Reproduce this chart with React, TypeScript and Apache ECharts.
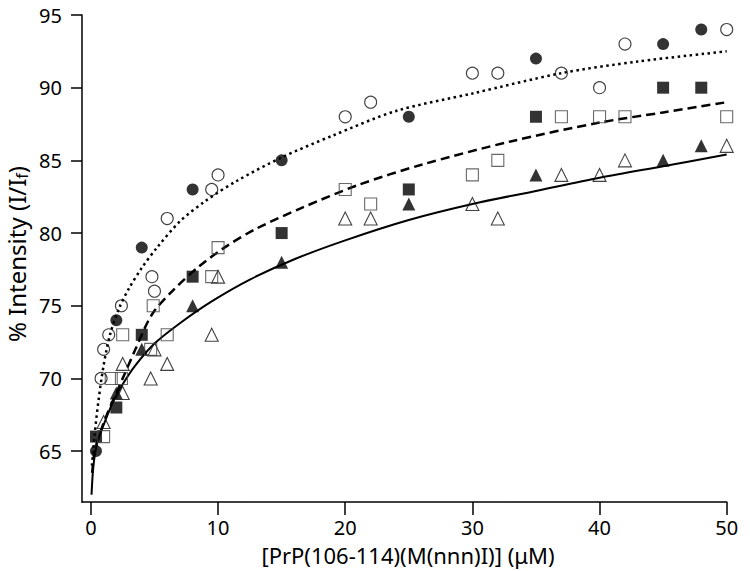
import React, { useEffect, useRef } from "react";
import * as echarts from "echarts";

// Data: [x (µM), % intensity]
const filledCircles: number[][] = [
  [0.4, 65], [2, 74], [4, 79], [8, 83], [15, 85], [25, 88], [35, 92], [45, 93], [48, 94],
];
const openCircles: number[][] = [
  [0.8, 70], [1, 72], [1.4, 73], [2.4, 75], [4.8, 77], [5, 76], [6, 81], [9.5, 83], [10, 84],
  [20, 88], [22, 89], [30, 91], [32, 91], [37, 91], [40, 90], [42, 93], [50, 94],
];
const filledSquares: number[][] = [
  [0.4, 66], [2, 68], [4, 73], [8, 77], [15, 80], [25, 83], [35, 88], [45, 90], [48, 90],
];
const openSquares: number[][] = [
  [1, 66], [1.6, 70], [2.4, 70], [2.5, 73], [4.7, 72], [4.9, 75], [6, 73], [9.5, 77], [10, 79],
  [20, 83], [22, 82], [30, 84], [32, 85], [37, 88], [40, 88], [42, 88], [50, 88],
];
const filledTriangles: number[][] = [
  [2, 69], [4, 72], [8, 75], [15, 78], [25, 82], [35, 84], [45, 85], [48, 86],
];
const openTriangles: number[][] = [
  [1, 67], [2.5, 69], [2.5, 71], [4.7, 70], [5, 72], [6, 71], [9.5, 73], [10, 77],
  [20, 81], [22, 81], [30, 82], [32, 81], [37, 84], [40, 84], [42, 85], [50, 86],
];

// Fitted curves, points
const dottedFit: number[][] = [
  [0.08, 64.0], [0.3, 66.2], [0.6, 68.5], [1, 70.9], [1.5, 73.0], [2.2, 74.8], [3, 76.2],
  [4, 77.6], [5.2, 79.0], [7, 80.8], [9, 82.2], [11.5, 83.6], [15, 85.2], [19, 86.7],
  [24, 88.4], [30, 89.6], [37, 91.0], [43, 91.8], [50, 92.5],
];
const dashedFit: number[][] = [
  [0.1, 63.5], [0.3, 65.0], [0.7, 66.2], [1.3, 67.6], [2, 69.0], [2.6, 70.2], [3.5, 72.0],
  [4.8, 74.4], [6.5, 76.1], [8.5, 77.7], [10.5, 79.0], [13, 80.3], [16.5, 81.7], [21, 83.3],
  [26, 84.7], [33, 86.3], [40, 87.6], [45, 88.3], [50, 89.0],
];
const solidFit: number[][] = [
  [0.05, 62.0], [0.2, 64.0], [0.5, 65.6], [1, 66.8], [1.7, 68.3], [2.5, 69.6], [3.5, 70.9],
  [5, 72.4], [7, 73.8], [9.5, 75.3], [12.5, 76.8], [16, 78.2], [20, 79.5], [25, 80.9],
  [30, 82.0], [35, 82.9], [40, 83.8], [45, 84.6], [50, 85.4],
];

const xTicks = [0, 10, 20, 30, 40, 50];
const yTicks = [65, 70, 75, 80, 85, 90, 95];

const FONT = "Noto Sans";

export default function App() {
  const ref = useRef<HTMLDivElement>(null);

  useEffect(() => {
    if (!ref.current) return;
    const chart = echarts.init(ref.current, undefined, { renderer: "svg" });

    const openStyle = (border: string) => ({
      color: "rgba(255,255,255,0)",
      borderColor: border,
      borderWidth: 1.1,
    });

    const fitLine = (data: number[][], width: number, type: any) => ({
      type: "line",
      data,
      smooth: 0.3,
      showSymbol: false,
      symbol: "none",
      lineStyle: { color: "#000", width, type },
      z: 2,
    });

    const option: any = {
      animation: false,
      backgroundColor: "#fff",
      grid: { left: 82, right: 23.3, top: 15, bottom: 69, containLabel: false },
      xAxis: {
        type: "value",
        min: -0.7,
        max: 50,
        splitLine: { show: false },
        axisLine: { show: true, onZero: false, lineStyle: { color: "#000", width: 1.5 } },
        axisTick: { show: true, inside: false, length: 13, customValues: xTicks, lineStyle: { color: "#000", width: 1.5 } },
        axisLabel: { customValues: xTicks, margin: 15, color: "#000", fontSize: 20, fontFamily: FONT, lineHeight: 20 },
      },
      yAxis: {
        type: "value",
        min: 61.5,
        max: 95,
        splitLine: { show: false },
        axisLine: { show: true, onZero: false, lineStyle: { color: "#000", width: 1.5 } },
        axisTick: { show: true, inside: false, length: 11, customValues: yTicks, lineStyle: { color: "#000", width: 1.5 } },
        axisLabel: { customValues: yTicks, margin: 20, color: "#000", fontSize: 20, fontFamily: FONT },
      },
      graphic: [
        {
          type: "text",
          x: 408,
          y: 555,
          style: {
            text: "[PrP(106-114)(M(nnn)I)] (\u03bcM)",
            fontSize: 22,
            lineHeight: 22,
            fontFamily: FONT,
            fill: "#000",
            align: "center",
            verticalAlign: "middle",
          },
        },
        {
          type: "text",
          x: 16,
          y: 254,
          rotation: Math.PI / 2,
          style: {
            text: "{a|% Intensity (I/I}{b|f}{a|)}",
            rich: {
              a: { fontSize: 24, fontFamily: FONT, fill: "#000", color: "#000" },
              b: { fontSize: 16, fontFamily: FONT, fill: "#000", color: "#000", padding: [12, 0, 0, 0] },
            },
            align: "center",
            verticalAlign: "middle",
          },
        },
      ],
      series: [
        fitLine(solidFit, 2, "solid"),
        fitLine(dashedFit, 2.5, [9, 5]),
        fitLine(dottedFit, 2.5, [2.5, 3.5]),
        { type: "scatter", data: filledTriangles, symbol: "triangle", symbolSize: 13, itemStyle: { color: "#000" }, z: 3 },
        { type: "scatter", data: openTriangles, symbol: "triangle", symbolSize: 13, itemStyle: openStyle("#111"), z: 3 },
        { type: "scatter", data: filledSquares, symbol: "rect", symbolSize: 12, itemStyle: { color: "#000" }, z: 3 },
        { type: "scatter", data: openSquares, symbol: "rect", symbolSize: 12, itemStyle: openStyle("#444"), z: 3 },
        { type: "scatter", data: filledCircles, symbol: "circle", symbolSize: 12, itemStyle: { color: "#000" }, z: 3 },
        { type: "scatter", data: openCircles, symbol: "circle", symbolSize: 12, itemStyle: openStyle("#111"), z: 3 },
      ],
    };

    chart.setOption(option);
    return () => chart.dispose();
  }, []);

  return (
    <div
      ref={ref}
      style={{ position: "fixed", left: 0, top: 0, width: 750, height: 571, background: "#fff" }}
    />
  );
}
